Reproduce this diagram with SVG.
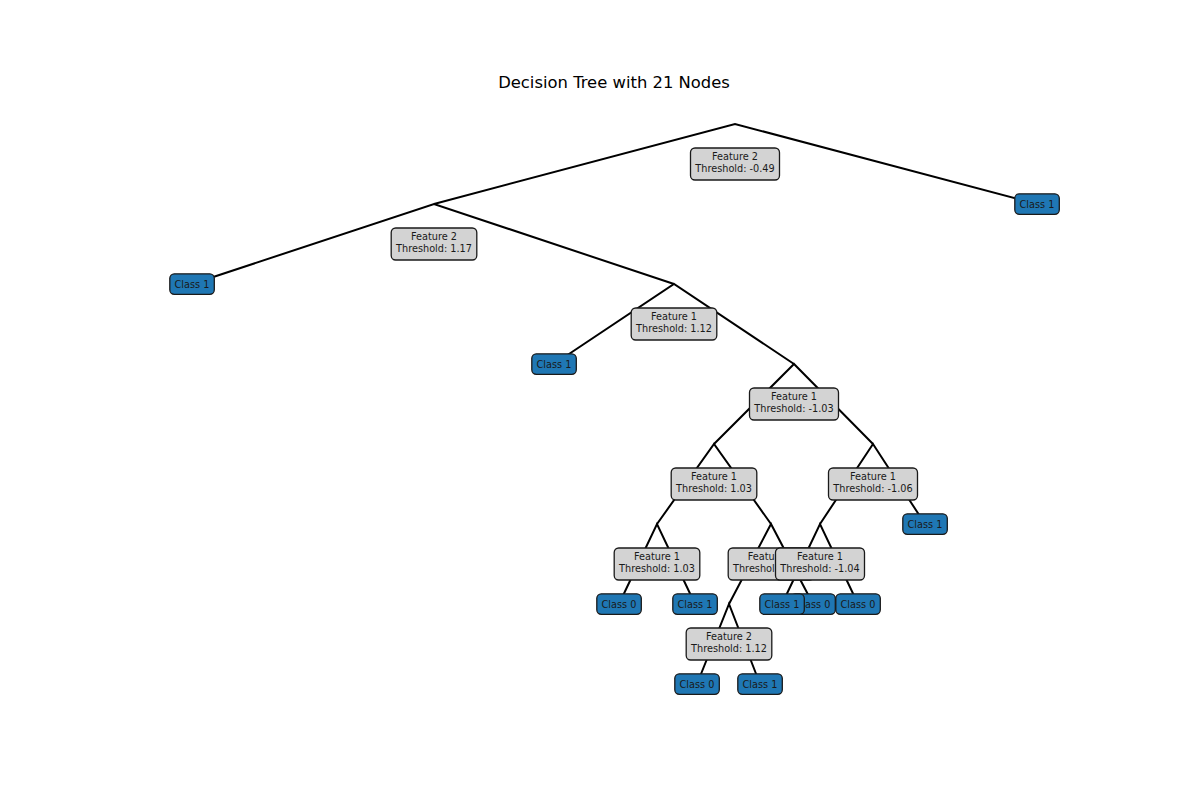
<svg xmlns="http://www.w3.org/2000/svg" width="1200" height="800" viewBox="0 0 1200 800">
<style>
.bg{fill:#ffffff}
.edge{stroke:#000;stroke-width:2;fill:none;stroke-linecap:butt}
.inner rect{fill:#d3d3d3;stroke:#1a1a1a;stroke-width:1.3}
.leaf rect{fill:#1f77b4;stroke:#1a1a1a;stroke-width:1.3}
text{font-family:"DejaVu Sans","Liberation Sans",sans-serif;font-size:9.72px;fill:#1a1a1a;text-anchor:middle}
.title{font-size:16.4px;fill:#000}
.st{text-anchor:start}
</style>
<rect class="bg" x="0" y="0" width="1200" height="800"/>
<text class="title" x="614" y="88.3">Decision Tree with 21 Nodes</text>
<g id="connectors">
<path class="edge" d="M434,204 L735,124 L1037,204"/>
<path class="edge" d="M192,284 L434,204 L674,284"/>
<path class="edge" d="M554,364 L674,284 L794,364"/>
<path class="edge" d="M714,444 L794,364 L873,444"/>
<path class="edge" d="M657,524 L714,444 L771,524"/>
<path class="edge" d="M619,604 L657,524 L695,604"/>
<path class="edge" d="M729,604 L771,524 L813,604"/>
<path class="edge" d="M697,684 L729,604 L760,684"/>
<path class="edge" d="M820,524 L873,444 L925,524"/>
<path class="edge" d="M782,604 L820,524 L858,604"/>
</g>
<g id="n_root" class="inner"><rect x="690.5" y="148" width="89" height="32" rx="4.5"/><text x="735" y="160.2">Feature 2</text><text x="735" y="172">Threshold: -0.49</text></g>
<g id="n_A" class="inner"><rect x="391.2" y="228" width="85.6" height="32" rx="4.5"/><text x="434" y="240.2">Feature 2</text><text x="434" y="252">Threshold: 1.17</text></g>
<g id="n_A_leaf" class="leaf"><rect x="169.8" y="273.8" width="44.5" height="20.5" rx="4.5"/><text x="192" y="287.5">Class 1</text></g>
<g id="n_B" class="inner"><rect x="631.2" y="308" width="85.6" height="32" rx="4.5"/><text x="674" y="320.2">Feature 1</text><text x="674" y="332">Threshold: 1.12</text></g>
<g id="n_B_leaf" class="leaf"><rect x="531.8" y="353.8" width="44.5" height="20.5" rx="4.5"/><text x="554" y="367.5">Class 1</text></g>
<g id="n_C" class="inner"><rect x="749.5" y="388" width="89" height="32" rx="4.5"/><text x="794" y="400.2">Feature 1</text><text x="794" y="412">Threshold: -1.03</text></g>
<g id="n_D" class="inner"><rect x="671.2" y="468" width="85.6" height="32" rx="4.5"/><text x="714" y="480.2">Feature 1</text><text x="714" y="492">Threshold: 1.03</text></g>
<g id="n_F" class="inner"><rect x="614.2" y="548" width="85.6" height="32" rx="4.5"/><text x="657" y="560.2">Feature 1</text><text x="657" y="572">Threshold: 1.03</text></g>
<g id="n_F_leaf0" class="leaf"><rect x="596.8" y="593.8" width="44.5" height="20.5" rx="4.5"/><text x="619" y="607.5">Class 0</text></g>
<g id="n_F_leaf1" class="leaf"><rect x="672.8" y="593.8" width="44.5" height="20.5" rx="4.5"/><text x="695" y="607.5">Class 1</text></g>
<g id="n_G" class="inner"><rect x="728.2" y="548" width="85.6" height="32" rx="4.5"/><text class="st" x="747.7" y="560.2">Featu</text><text class="st" x="733" y="572">Threshol</text></g>
<g id="n_H" class="inner"><rect x="686.2" y="628" width="85.6" height="32" rx="4.5"/><text x="729" y="640.2">Feature 2</text><text x="729" y="652">Threshold: 1.12</text></g>
<g id="n_H_leaf0" class="leaf"><rect x="674.8" y="673.8" width="44.5" height="20.5" rx="4.5"/><text x="697" y="687.5">Class 0</text></g>
<g id="n_H_leaf1" class="leaf"><rect x="737.8" y="673.8" width="44.5" height="20.5" rx="4.5"/><text x="760" y="687.5">Class 1</text></g>
<g id="n_G_leaf" class="leaf"><rect x="790.8" y="593.8" width="44.5" height="20.5" rx="4.5"/><text class="st" x="802.4" y="607.5">lass 0</text></g>
<g id="n_E" class="inner"><rect x="828.5" y="468" width="89" height="32" rx="4.5"/><text x="873" y="480.2">Feature 1</text><text x="873" y="492">Threshold: -1.06</text></g>
<g id="n_I" class="inner"><rect x="775.5" y="548" width="89" height="32" rx="4.5"/><text x="820" y="560.2">Feature 1</text><text x="820" y="572">Threshold: -1.04</text></g>
<g id="n_I_leaf1" class="leaf"><rect x="759.8" y="593.8" width="44.5" height="20.5" rx="4.5"/><text x="782" y="607.5">Class 1</text></g>
<g id="n_I_leaf0" class="leaf"><rect x="835.8" y="593.8" width="44.5" height="20.5" rx="4.5"/><text x="858" y="607.5">Class 0</text></g>
<g id="n_E_leaf" class="leaf"><rect x="902.8" y="513.8" width="44.5" height="20.5" rx="4.5"/><text x="925" y="527.5">Class 1</text></g>
<g id="n_R_leaf" class="leaf"><rect x="1014.8" y="193.8" width="44.5" height="20.5" rx="4.5"/><text x="1037" y="207.5">Class 1</text></g>
</svg>
